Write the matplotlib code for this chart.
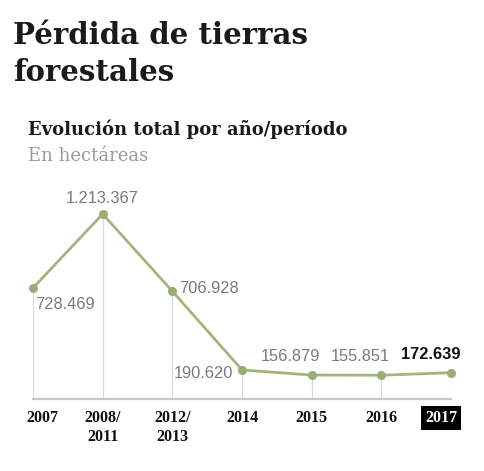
import matplotlib
matplotlib.use("Agg")
import matplotlib.pyplot as plt
from matplotlib.transforms import offset_copy

# data
periods = ["2007", "2008/\n2011", "2012/\n2013", "2014", "2015", "2016", "2017"]
hectares = [728469, 1213367, 706928, 190620, 156879, 155851, 172639]
value_labels = ["728.469", "1.213.367", "706.928", "190.620", "156.879", "155.851", "172.639"]

W, H = 484, 471
GREEN = "#a3b57c"
GREY_TXT = "#7a7a7a"

fig = plt.figure(figsize=(W / 100, H / 100), dpi=100)
fig.patch.set_facecolor("white")

# header texts (pixel positions -> figure fraction)
def fx(px):
    return px / W

def fy(py):
    return 1 - py / H

serif = "DejaVu Serif"
fig.text(fx(13), fy(44), "Pérdida de tierras", fontsize=21, fontweight="heavy",
         family=serif, color="#1a1a1a", va="baseline")
fig.text(fx(13), fy(81), "forestales", fontsize=21, fontweight="heavy",
         family=serif, color="#1a1a1a", va="baseline")
fig.text(fx(28), fy(135), "Evolución total por año/período", fontsize=13,
         fontweight="bold", family=serif, color="#1a1a1a", va="baseline")
fig.text(fx(28), fy(161), "En hectáreas", fontsize=13, family=serif,
         color="#9a9a9a", va="baseline")

# chart area: first point at x=33, last at x=451, baseline at y=399
ax = fig.add_axes([fx(33), (H - 399) / H, (451 - 33) / W, 185 / H])
x = list(range(len(periods)))
ax.set_xlim(0, len(periods) - 1)
ax.set_ylim(0, max(hectares))

ax.vlines(x, 0, hectares, color="#d9d9d9", lw=0.9, zorder=1)
ax.axhline(0, color="#c8c8c8", lw=1.6, zorder=2, clip_on=False)
ax.plot(x, hectares, color=GREEN, lw=2, marker="o", markersize=5.5,
        markerfacecolor="#9aae74", markeredgecolor="#9aae74", zorder=3, clip_on=False)

for sp in ax.spines.values():
    sp.set_visible(False)
ax.set_yticks([])

# value labels: (dx, dy, ha, va) in pixels
placements = [
    (2, -9, "left", "top"),
    (0, 8, "center", "bottom"),
    (7, 3, "left", "center"),
    (-9, -4, "right", "center"),
    (-21, 11, "center", "bottom"),
    (-21, 11, "center", "bottom"),
    (-20, 11, "center", "bottom"),
]
for i, (v, lab) in enumerate(zip(hectares, value_labels)):
    dx, dy, ha, va = placements[i]
    last = i == len(hectares) - 1
    ax.annotate(lab, (i, v), xytext=(dx, dy), textcoords="offset pixels",
                ha=ha, va=va, fontsize=11.8, family="Liberation Sans",
                fontweight="bold" if last else "normal",
                color="#111111" if last else GREY_TXT, zorder=4)

ax.set_xticks(x)
ax.set_xticklabels(periods, fontsize=11.5, fontweight="bold", family="Liberation Serif",
                   color="#111111", linespacing=1.25)
ax.tick_params(axis="x", length=0, pad=8)
ticklabels = ax.get_xticklabels()
ticklabels[0].set_transform(offset_copy(ticklabels[0].get_transform(), fig=fig, x=9, y=0, units="dots"))
ticklabels[-1].set_transform(offset_copy(ticklabels[-1].get_transform(), fig=fig, x=-10, y=0, units="dots"))
ticklabels[-1].set_color("white")
ticklabels[-1].set_bbox(dict(boxstyle="square,pad=0.25", fc="black", ec="none"))

fig.savefig("out.png", dpi=100, facecolor="white")
